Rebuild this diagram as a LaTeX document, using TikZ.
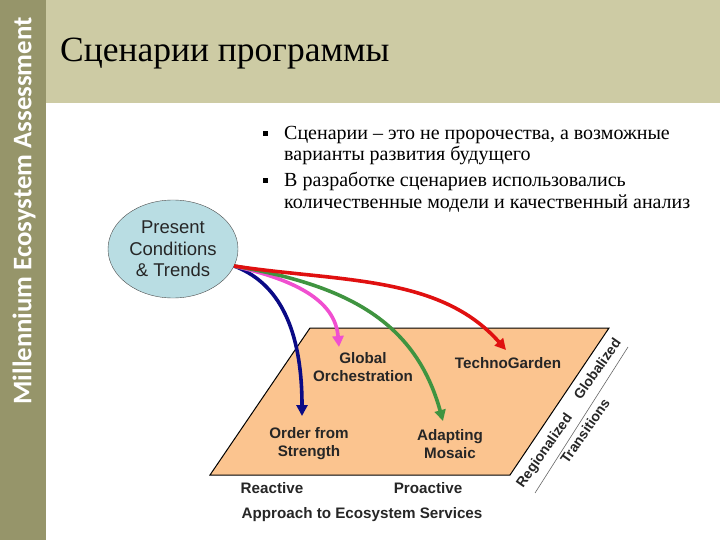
\documentclass[tikz,border=0pt]{standalone}
\usepackage{fontspec}
\setmainfont{Liberation Serif}
\setsansfont{Liberation Sans}
\newfontfamily\sidefont{Carlito}
\usetikzlibrary{arrows.meta, shapes.geometric}
\definecolor{sidebar}{HTML}{96956A}
\definecolor{header}{HTML}{CDCBA4}
\definecolor{plane}{HTML}{FBC48F}
\definecolor{blob}{HTML}{B9DDE3}
\definecolor{nearblue}{HTML}{0A0A85}
\definecolor{nearpink}{HTML}{F04FD0}
\definecolor{neargreen}{HTML}{3F9440}
\definecolor{nearred}{HTML}{E01010}
\tikzset{
	route/.style = {line width = 3.6pt, -{Triangle[length = 11pt, width = 11pt]}},
	tag/.style = {font = \sffamily\bfseries\fontsize{15.2}{18}\selectfont, text = black!85, inner sep = 0pt, align = center},
	slant/.style = {tag, rotate = 55, font = \sffamily\bfseries\fontsize{14}{18}\selectfont},
	say/.style = {font = \fontsize{20}{25}\selectfont, inner sep = 0pt, anchor = base west},
	dot/.style = {fill = black, minimum size = 5pt, inner sep = 0pt}
}
\begin{document}
\begin{tikzpicture}[x = 1pt, y = -1pt]
	\useasboundingbox (0, 0) rectangle (720, 540);
	\fill[header] (46, 0) rectangle (720, 103);
	\fill[sidebar] (0, 0) rectangle (46, 540);
	\node[rotate = 90, text = white, inner sep = 0pt, font = \sidefont\bfseries\fontsize{26.8}{30}\selectfont] (side) at (24, 211) {Millennium Ecosystem Assessment};
	\node[anchor = base west, inner sep = 0pt, font = \fontsize{35.5}{40}\selectfont] (title) at (60, 62) {Сценарии программы};
	%%%%%%%%%
	\node[dot] (dota) at (265.5, 134) {};
	\node[say] (linea) at (284, 140) {Сценарии – это не пророчества, а возможные};
	\node[say] (lineb) at (284, 161) {варианты развития будущего};
	\node[dot] (dotb) at (265.5, 181) {};
	\node[say] (linec) at (284, 187) {В разработке сценариев использовались};
	\node[say] (lined) at (284, 209) {количественные модели и качественный анализ};
	%%%%%%%%%
	\filldraw[fill = plane, draw = black, line width = 1pt] (310, 328) -- (609, 328) -- (510, 475) -- (210, 475) -- cycle;
	\node[ellipse, draw = black!70, fill = blob, minimum width = 130pt, minimum height = 98pt, inner sep = 0pt, align = center, font = \sffamily\fontsize{18.5}{21.5}\selectfont, text = black!85] (present) at (173, 249) {Present\\Conditions\\\& Trends};
	\coordinate (start) at (234, 266);
	\coordinate (strength) at (302, 416);
	\coordinate (orchestra) at (339, 347);
	\coordinate (mosaic) at (443, 421);
	\coordinate (garden) at (506, 350);
	\draw[route, nearblue] (start) .. controls (285, 285) and (302, 340) .. (strength);
	\draw[route, nearpink] (start) .. controls (295, 280) and (335, 300) .. (orchestra);
	\draw[route, neargreen] (start) .. controls (345, 285) and (415, 320) .. (mosaic);
	\draw[route, nearred] (start) .. controls (340, 282) and (440, 275) .. (garden);
	%%%%%%%%%
	\node[tag] (global) at (363, 367) {Global\\Orchestration};
	\node[tag] (techno) at (508, 363) {TechnoGarden};
	\node[tag] (order) at (309, 444) {Order from\\Strength};
	\node[tag] (adapt) at (450, 444) {Adapting\\Mosaic};
	\node[tag] (reactive) at (272, 488) {Reactive};
	\node[tag] (proactive) at (428, 488) {Proactive};
	\node[tag] (approach) at (362, 515) {Approach to Ecosystem Services};
	\node[slant] (regional) at (545, 451) {Regionalized};
	\node[slant] (globalized) at (597, 369) {Globalized};
	\node[slant] (transit) at (585, 431) {Transitions};
	\coordinate (axisa) at (628, 347);
	\coordinate (axisb) at (535, 493);
	\draw[black!60, line width = 0.6pt] (axisa) -- (axisb);
\end{tikzpicture}
\end{document}
